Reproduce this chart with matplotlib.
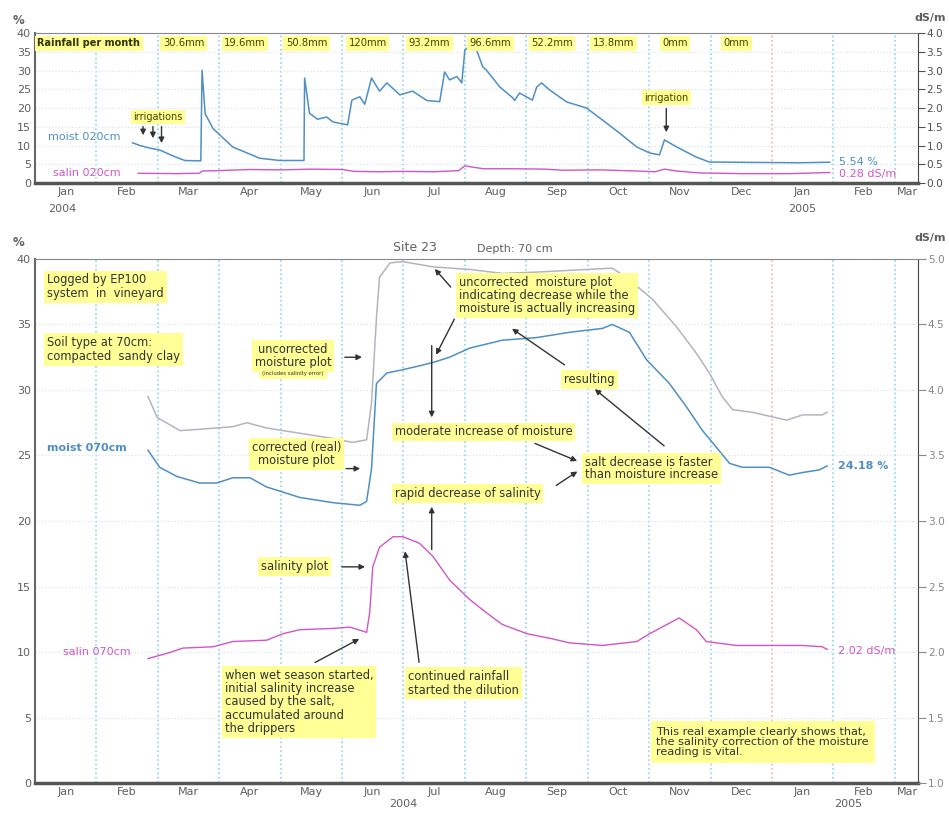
import matplotlib
matplotlib.use("Agg")
import matplotlib.pyplot as plt

plt.rcParams['font.family'] = ['DejaVu Sans']

# x values are months counted from 1 Jan 2004
month_names = ['Jan', 'Feb', 'Mar', 'Apr', 'May', 'Jun', 'Jul', 'Aug', 'Sep',
               'Oct', 'Nov', 'Dec', 'Jan', 'Feb', 'Mar']

# ---- top panel: 20 cm ----
moist20_x = [1.59, 1.71, 1.87, 2.03, 2.28, 2.44, 2.70, 2.72, 2.77, 2.90, 3.22, 3.66,
             3.99, 4.38, 4.39, 4.47, 4.60, 4.75, 4.85, 5.09, 5.16, 5.29, 5.37, 5.48,
             5.61, 5.73, 5.94, 6.15, 6.38, 6.59, 6.67, 6.75, 6.87, 6.95, 7.00, 7.11,
             7.19, 7.29, 7.35, 7.57, 7.78, 7.81, 7.89, 8.10, 8.17, 8.25, 8.38, 8.66,
             8.98, 9.24, 9.52, 9.80, 10.01, 10.17, 10.25, 10.45, 10.77, 10.98, 11.63,
             12.45, 12.94]
moist20_y = [10.7, 10.0, 9.3, 8.8, 7.0, 6.0, 5.9, 30.1, 18.5, 14.5, 9.6, 6.6,
             6.0, 6.0, 28.0, 18.6, 17.0, 17.6, 16.3, 15.5, 22.1, 23.0, 21.0, 28.0,
             24.5, 26.7, 23.5, 24.5, 22.0, 21.7, 29.6, 27.5, 28.4, 26.7, 35.5, 36.8,
             35.5, 31.0, 30.1, 25.6, 22.7, 22.0, 24.0, 22.1, 25.6, 26.7, 24.8, 21.6,
             20.0, 16.8, 13.3, 9.6, 8.0, 7.5, 11.5, 9.6, 6.9, 5.6, 5.5,
             5.4, 5.54]

salin20_x = [1.68, 2.30, 2.68, 2.72, 3.0, 3.5, 4.0, 4.5, 5.0, 5.2, 5.6, 6.0, 6.5,
             6.9, 7.0, 7.1, 7.3, 7.8, 8.3, 8.6, 9.2, 9.8, 10.1, 10.25, 10.45, 10.8,
             11.5, 12.3, 12.94]
salin20_y = [0.26, 0.25, 0.26, 0.32, 0.33, 0.36, 0.35, 0.37, 0.36, 0.31, 0.30, 0.31,
             0.30, 0.33, 0.46, 0.43, 0.38, 0.38, 0.37, 0.34, 0.35, 0.32, 0.30, 0.37,
             0.32, 0.27, 0.25, 0.25, 0.28]

rain_labels = ['30.6mm', '19.6mm', '50.8mm', '120mm', '93.2mm', '96.6mm',
               '52.2mm', '13.8mm', '0mm', '0mm']
rain_months = [2, 3, 4, 5, 6, 7, 8, 9, 10, 11]

# ---- bottom panel: 70 cm ----
uncorr_x = [1.84, 1.99, 2.36, 2.68, 3.22, 3.45, 3.77, 4.31, 4.85, 5.17, 5.40, 5.48,
            5.56, 5.61, 5.78, 5.99, 6.48, 7.08, 7.61, 8.17, 8.98, 9.40, 9.63, 10.06,
            10.45, 10.77, 10.98, 11.19, 11.36, 11.68, 12.24, 12.50, 12.82, 12.90]
uncorr_y = [29.5, 27.9, 26.9, 27.0, 27.2, 27.5, 27.1, 26.7, 26.3, 26.0, 26.2, 29.0,
            35.5, 38.6, 39.7, 39.8, 39.4, 39.2, 38.9, 39.0, 39.2, 39.3, 38.6, 36.9,
            34.8, 32.8, 31.3, 29.5, 28.5, 28.3, 27.7, 28.1, 28.1, 28.3]

moist70_x = [1.84, 2.03, 2.31, 2.68, 2.96, 3.22, 3.50, 3.77, 4.31, 4.85, 5.29, 5.40,
             5.48, 5.56, 5.73, 5.94, 6.22, 6.48, 6.75, 7.08, 7.61, 8.17, 8.70, 9.24,
             9.40, 9.68, 9.96, 10.33, 10.61, 10.87, 11.10, 11.31, 11.52, 11.96, 12.28,
             12.50, 12.77, 12.90]
moist70_y = [25.4, 24.1, 23.4, 22.9, 22.9, 23.3, 23.3, 22.6, 21.8, 21.4, 21.2, 21.5,
             24.0, 30.5, 31.3, 31.5, 31.8, 32.1, 32.5, 33.2, 33.8, 34.0, 34.4, 34.7,
             35.0, 34.4, 32.3, 30.5, 28.7, 26.9, 25.6, 24.4, 24.1, 24.1, 23.5,
             23.7, 23.9, 24.2]

salin70_x = [1.84, 2.15, 2.41, 2.90, 3.22, 3.77, 4.04, 4.31, 4.85, 5.13, 5.40, 5.45,
             5.50, 5.61, 5.83, 5.99, 6.26, 6.48, 6.75, 7.08, 7.35, 7.61, 8.01, 8.43,
             8.70, 9.24, 9.80, 10.01, 10.33, 10.49, 10.77, 10.93, 11.42, 11.96, 12.50,
             12.82, 12.90]
salin70_y = [1.95, 1.99, 2.03, 2.04, 2.08, 2.09, 2.14, 2.17, 2.18, 2.19, 2.15, 2.30,
             2.65, 2.80, 2.88, 2.88, 2.83, 2.73, 2.55, 2.40, 2.30, 2.21, 2.14, 2.10,
             2.07, 2.05, 2.08, 2.14, 2.22, 2.26, 2.17, 2.08, 2.05, 2.05, 2.05,
             2.04, 2.02]

BLUE = '#4f8fc4'
GREY = '#b4b4be'
MAG = '#d155c8'
YEL = '#ffff96'
CYAN = '#8fd6e4'
TXT = '#606060'
DARK = '#333333'

fig = plt.figure(figsize=(9.49, 8.17), dpi=100)
ax1 = fig.add_axes([0.0369, 0.776, 0.9305, 0.1836])
ax3 = fig.add_axes([0.0369, 0.0416, 0.9305, 0.6414])

yb = dict(boxstyle='square,pad=0.25', fc=YEL, ec='none')
arr = dict(arrowstyle='-|>', color='#333333', lw=1.0, mutation_scale=8)


def style(ax, xlim):
    ax.set_xlim(*xlim)
    ticks = [m + 0.5 for m in range(14)] + [14.2]
    ax.set_xticks(ticks)
    ax.set_xticklabels(month_names, fontsize=8, color=TXT)
    ax.set_xticks([m for m in range(1, 15) if m != 12], minor=True)
    ax.grid(which='minor', axis='x', color=CYAN, ls=':', lw=1.2)
    ax.grid(which='major', axis='y', color='#d6e6ee', ls=':', lw=0.9)
    ax.axvline(12, color='#f0b890', ls=':', lw=1.2, zorder=0)
    ax.tick_params(axis='both', which='both', length=0, labelsize=8, colors=TXT, pad=3)
    ax.spines['bottom'].set_linewidth(2.5)
    ax.spines['bottom'].set_color('#555555')
    ax.spines['left'].set_linewidth(1.5)
    ax.spines['left'].set_color('#666666')
    ax.spines['top'].set_color('#888888')
    ax.spines['right'].set_color('#444444')


# ---------- top panel ----------
style(ax1, (0, 14.38))
ax1.set_ylim(0, 40)
ax1.set_yticks(range(0, 41, 5))
ax1.plot(moist20_x, moist20_y, color=BLUE, lw=1.1)
ax1b = ax1.twinx()
ax1b.set_ylim(0, 4)
ax1b.set_yticks([i * 0.5 for i in range(9)])
ax1b.set_yticklabels(['%.1f' % (i * 0.5) for i in range(9)])
ax1b.tick_params(axis='y', length=5, direction='out', labelsize=7.6, colors='#505050', pad=1)
ax1b.plot(salin20_x, salin20_y, color=MAG, lw=1.0)
for s in ax1b.spines.values():
    s.set_visible(False)

ax1.text(0.04, 37.3, 'Rainfall per month', fontsize=7, fontweight='bold',
         color='#333300', va='center', bbox=yb)
for m, lab in zip(rain_months, rain_labels):
    ax1.text(m + 0.42, 37.3, lab, fontsize=7.2, color='#444400', ha='center',
             va='center', bbox=yb)
ax1.text(2.0, 17.6, 'irrigations', fontsize=7, color='#444400', ha='center',
         va='center', bbox=yb)
for tx, ty in [(1.76, 12.0), (1.92, 11.2), (2.06, 9.9)]:
    ax1.annotate('', xy=(tx, ty), xytext=(tx, 15.8), arrowprops=arr)
ax1.text(10.28, 22.7, 'irrigation', fontsize=7, color='#444400', ha='center',
         va='center', bbox=yb)
ax1.annotate('', xy=(10.28, 12.8), xytext=(10.28, 20.6), arrowprops=arr)
ax1.text(0.21, 12.3, 'moist 020cm', fontsize=8, color=BLUE, va='center')
ax1.text(0.29, 2.7, 'salin 020cm', fontsize=8, color=MAG, va='center')
ax1.text(13.1, 5.6, '5.54 %', fontsize=8, color=BLUE, va='center')
ax1.text(13.1, 2.4, '0.28 dS/m', fontsize=8, color=MAG, va='center')
ax1.text(-0.025, 1.06, '%', transform=ax1.transAxes, fontsize=8.5, color=TXT,
         fontweight='bold', ha='left')
fig.text(0.997, 0.972, 'dS/m', fontsize=8, color=TXT, fontweight='bold',
         ha='right', va='bottom')
ax1.text(0.45, -0.14, '2004', transform=ax1.get_xaxis_transform(), fontsize=8,
         color=TXT, ha='center', va='top')
ax1.text(12.5, -0.14, '2005', transform=ax1.get_xaxis_transform(), fontsize=8,
         color=TXT, ha='center', va='top')

# ---------- bottom panel ----------
style(ax3, (0, 14.38))
ax3.set_ylim(0, 40)
ax3.set_yticks(range(0, 41, 5))
ax3.plot(uncorr_x, uncorr_y, color=GREY, lw=1.1)
ax3.plot(moist70_x, moist70_y, color=BLUE, lw=1.1)
ax3b = ax3.twinx()
ax3b.set_ylim(1, 5)
ax3b.set_yticks([1 + i * 0.5 for i in range(9)])
ax3b.set_yticklabels(['%.1f' % (1 + i * 0.5) for i in range(9)])
ax3b.tick_params(axis='y', length=6, direction='out', labelsize=7.6, colors='#888888', pad=1)
ax3b.plot(salin70_x, salin70_y, color=MAG, lw=1.0)
for s in ax3b.spines.values():
    s.set_visible(False)

ax3.text(0.43, 1.01, 'Site 23', transform=ax3.transAxes, fontsize=9, color=TXT,
         ha='center', va='bottom')
ax3.text(0.5, 1.01, 'Depth: 70 cm', transform=ax3.transAxes, fontsize=8, color=TXT,
         ha='left', va='bottom')
ax3.text(-0.025, 1.025, '%', transform=ax3.transAxes, fontsize=8.5, color=TXT,
         fontweight='bold', ha='left')
fig.text(0.997, 0.702, 'dS/m', fontsize=8, color=TXT, fontweight='bold',
         ha='right', va='bottom')
ax3.text(6.0, -0.03, '2004', transform=ax3.get_xaxis_transform(), fontsize=8,
         color=TXT, ha='center', va='top')
ax3.text(13.25, -0.03, '2005', transform=ax3.get_xaxis_transform(), fontsize=8,
         color=TXT, ha='center', va='top')

fs = 8.3
ax3.text(0.2, 38.9, 'Logged by EP100\nsystem  in  vineyard', fontsize=fs, color=DARK,
         va='top', bbox=yb, linespacing=1.1)
ax3.text(0.2, 34.1, 'Soil type at 70cm:\ncompacted  sandy clay', fontsize=fs,
         color=DARK, va='top', bbox=yb, linespacing=1.1)
ax3.text(0.2, 25.6, 'moist 070cm', fontsize=8, color=BLUE, va='center',
         fontweight='bold')
ax3.text(0.46, 10.0, 'salin 070cm', fontsize=8, color=MAG, va='center')
ax3.text(13.07, 24.2, '24.18 %', fontsize=8, color=BLUE, va='center',
         fontweight='bold')
ax3.text(13.07, 10.1, '2.02 dS/m', fontsize=8, color=MAG, va='center')

ax3.text(4.2, 31.6, 'uncorrected\nmoisture plot', fontsize=fs, color=DARK,
         ha='center', va='bottom', bbox=yb, linespacing=1.05)
ax3.text(4.2, 31.45, '(includes salinity error)', fontsize=3.8, color=DARK,
         ha='center', va='top',
         bbox=dict(boxstyle='square,pad=0.6', fc=YEL, ec='none'))
ax3.annotate('', xy=(5.37, 32.5), xytext=(5.0, 32.5), arrowprops=arr)
ax3.text(4.26, 25.1, 'corrected (real)\nmoisture plot', fontsize=fs, color=DARK,
         ha='center', va='center', bbox=yb, linespacing=1.05)
ax3.annotate('', xy=(5.34, 24.0), xytext=(5.02, 24.0), arrowprops=arr)

ax3.text(6.9, 37.2, 'uncorrected  moisture plot\nindicating decrease while the\n'
         'moisture is actually increasing', fontsize=fs, color=DARK,
         va='center', bbox=yb, linespacing=0.98)
ax3.annotate('', xy=(6.48, 39.4), xytext=(6.8, 37.7), arrowprops=arr)
ax3.annotate('', xy=(6.51, 32.5), xytext=(6.85, 35.6), arrowprops=arr)

ax3.text(5.86, 26.8, 'moderate increase of moisture', fontsize=fs, color=DARK,
         va='center', bbox=yb)
ax3.annotate('', xy=(6.46, 27.7), xytext=(6.46, 33.6), arrowprops=arr)
ax3.text(5.86, 22.1, 'rapid decrease of salinity', fontsize=fs, color=DARK,
         va='center', bbox=yb)
ax3.annotate('', xy=(6.46, 21.3), xytext=(6.46, 17.6), arrowprops=arr)
ax3.text(8.95, 24.0, 'salt decrease is faster\nthan moisture increase', fontsize=fs,
         color=DARK, va='center', bbox=yb, linespacing=0.98)
ax3.annotate('', xy=(8.87, 24.5), xytext=(8.1, 26.0), arrowprops=arr)
ax3.annotate('', xy=(8.87, 23.9), xytext=(8.45, 22.6), arrowprops=arr)
ax3.text(9.03, 30.8, 'resulting', fontsize=fs, color=DARK, ha='center',
         va='center', bbox=yb)
ax3.annotate('', xy=(7.73, 34.8), xytext=(8.66, 31.8), arrowprops=arr)
ax3.annotate('', xy=(9.08, 30.2), xytext=(10.28, 25.6), arrowprops=arr)

ax3.text(4.23, 16.5, 'salinity plot', fontsize=fs, color=DARK, ha='center',
         va='center', bbox=yb)
ax3.annotate('', xy=(5.42, 16.5), xytext=(4.95, 16.5), arrowprops=arr)
ax3.text(3.09, 8.7, 'when wet season started,\ninitial salinity increase\n'
         'caused by the salt,\naccumulated around\nthe drippers', fontsize=fs,
         color=DARK, va='top', bbox=yb, linespacing=1.02)
ax3.annotate('', xy=(5.32, 11.1), xytext=(4.52, 9.1), arrowprops=arr)
ax3.text(6.07, 8.6, 'continued rainfall\nstarted the dilution', fontsize=fs,
         color=DARK, va='top', bbox=yb, linespacing=1.02)
ax3.annotate('', xy=(6.02, 17.9), xytext=(6.26, 9.0), arrowprops=arr)
ax3.text(10.12, 4.3, 'This real example clearly shows that,\nthe salinity correction '
         'of the moisture\nreading is vital.', fontsize=8.1, color=DARK,
         va='top', bbox=dict(boxstyle='square,pad=0.5', fc=YEL, ec='none'),
         linespacing=1.02)

fig.savefig('out.png', dpi=100)
